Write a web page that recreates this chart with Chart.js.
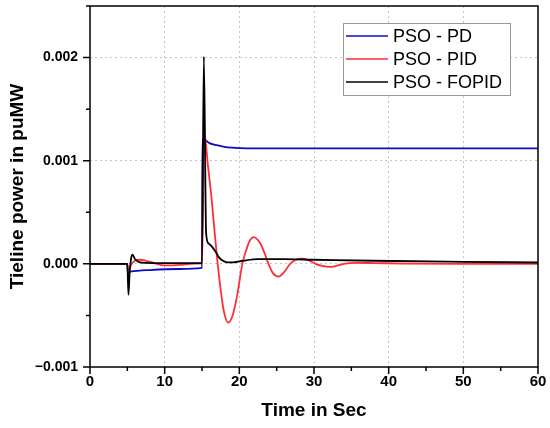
<!DOCTYPE html>
<html>
<head>
<meta charset="utf-8">
<script src="https://cdn.jsdelivr.net/npm/chart.js@4.4.0/dist/chart.umd.min.js"></script>
<style>
  html, body { margin: 0; padding: 0; background: #fff; }
  #wrap { width: 550px; height: 428px; }
</style>
</head>
<body>
<div id="wrap"><canvas id="chart" width="550" height="428"></canvas></div>
<script>
// Series (time in s, power in puMW)
const pdTime  = [0, 5.0, 5.05, 5.4, 8, 12, 15.0, 15.05, 15.4, 16, 17, 18, 19, 20, 22, 25, 30, 40, 60];
const pdValue = [0, 0, -0.00008, -0.000075, -0.00006, -0.00005, -0.00004, 0.00121, 0.0012, 0.00117,
                 0.00115, 0.001135, 0.001127, 0.001123, 0.00112, 0.00112, 0.00112, 0.00112, 0.00112];

const pidTime  = [0, 5.0, 5.1, 5.5, 6.0, 6.7, 7.5, 8.5, 10, 12, 14, 15.0, 15.3, 15.8, 16.3, 16.7, 17.1,
                  17.5, 17.9, 18.5, 19.1, 19.7, 20.4, 21.0, 21.4, 21.9, 22.8, 23.4, 23.9, 24.5, 25.3,
                  26.0, 26.8, 27.6, 28.5, 29.4, 30.2, 31.1, 32.1, 33.0, 34.0, 35.5, 38, 42, 50, 60];
const pidValue = [0, 0, -0.00007, -0.00001, 0.00003, 0.00004, 0.00003, 0.00001, -0.000015, -0.00001,
                  0.000003, 0.000005, 0.00126, 0.00095, 0.00062, 0.0003, 0, -0.00025, -0.00045,
                  -0.00057, -0.0005, -0.00031, 0, 0.00015, 0.000225, 0.00026, 0.0002, 0.0001, 0,
                  -0.00009, -0.000123, -0.00008, 0, 0.00004, 0.00005, 0.00003, 0, -0.00002, -0.00003,
                  -0.00002, 0, 0.00001, 0.000008, 0.000003, 0, 0];

const fopidTime  = [0, 5.0, 5.15, 5.3, 5.5, 5.7, 6.0, 6.5, 7.5, 10, 15.0, 15.25, 15.55, 15.85, 16.3,
                    16.8, 17.3, 17.8, 18.4, 19.2, 20.5, 22.5, 26, 30, 38, 50, 60];
const fopidValue = [0, 0, -0.0003, -0.0001, 0.00005, 0.00009, 0.00005, 0.00002, 0.00001, 0.000008,
                    0.000008, 0.00201, 0.0003, 0.0002, 0.00017, 0.00012, 0.00006, 0.00003, 0.000015,
                    0.000015, 0.00003, 0.000045, 0.000045, 0.00004, 0.00003, 0.00002, 0.000013];

const seriesLabels = ['PSO - PD', 'PSO - PID', 'PSO - FOPID'];
const seriesColors = ['#0c0cc8', '#ff2d3c', '#000000'];

const xTitle = 'Time in Sec';
const yTitle = 'Tieline power in puMW';

const FONT = '"Liberation Sans", Arial, sans-serif';

function toPoints(ts, vs) {
    return ts.map((t, i) => ({ x: t, y: vs[i] }));
}

function isMajorY(v) {
    const k = v / 0.001;
    return Math.abs(k - Math.round(k)) < 1e-6;
}

// Frame, outward ticks (major + minor) and the boxed legend
const decorPlugin = {
    id: 'decor',
    afterDraw(chart) {
        const ctx = chart.ctx;
        const a = chart.chartArea;
        const xs = chart.scales.x;
        const ys = chart.scales.y;
        ctx.save();
        ctx.strokeStyle = '#000';
        ctx.lineWidth = 1.5;

        // ticks
        ctx.beginPath();
        xs.ticks.forEach(t => {
            const px = xs.getPixelForValue(t.value);
            const len = (Math.round(t.value) % 10 === 0) ? 7 : 4;
            ctx.moveTo(px, a.bottom);
            ctx.lineTo(px, a.bottom + len);
        });
        ys.ticks.forEach(t => {
            const py = ys.getPixelForValue(t.value);
            const len = isMajorY(t.value) ? 7 : 4;
            ctx.moveTo(a.left, py);
            ctx.lineTo(a.left - len, py);
        });
        ctx.stroke();

        // frame
        ctx.strokeRect(a.left, a.top, a.right - a.left, a.bottom - a.top);

        // legend
        const bx = 343, by = 23, bw = 167, bh = 72;
        ctx.fillStyle = '#fff';
        ctx.fillRect(bx, by, bw, bh);
        ctx.lineWidth = 1;
        ctx.strokeStyle = '#999';
        ctx.strokeRect(bx + 0.5, by + 0.5, bw, bh);
        ctx.font = '18px ' + FONT;
        ctx.textBaseline = 'middle';
        ctx.textAlign = 'left';
        seriesLabels.forEach((lab, i) => {
            const y = 36 + i * 23;
            ctx.strokeStyle = seriesColors[i];
            ctx.lineWidth = 1.5;
            ctx.beginPath();
            ctx.moveTo(346, y);
            ctx.lineTo(388, y);
            ctx.stroke();
            ctx.fillStyle = '#000';
            ctx.fillText(lab, 393, y + 1);
        });
        ctx.restore();
    }
};

const datasets = [
    { label: seriesLabels[0], data: toPoints(pdTime, pdValue), order: 3 },
    { label: seriesLabels[1], data: toPoints(pidTime, pidValue), order: 2 },
    { label: seriesLabels[2], data: toPoints(fopidTime, fopidValue), order: 1 }
].map((d, i) => Object.assign(d, {
    borderColor: seriesColors[i],
    borderWidth: 1.8,
    pointRadius: 0,
    fill: false,
    cubicInterpolationMode: 'monotone'
}));

new Chart(document.getElementById('chart'), {
    type: 'line',
    data: { datasets: datasets },
    plugins: [decorPlugin],
    options: {
        responsive: false,
        animation: false,
        layout: { padding: { top: 6, right: 12, left: 0, bottom: 0 } },
        plugins: {
            legend: { display: false },
            tooltip: { enabled: false }
        },
        scales: {
            x: {
                type: 'linear',
                min: 0,
                max: 60,
                afterFit(scale) {
                    scale.height = 61;
                    scale.paddingLeft = 0;
                    scale.paddingRight = 0;
                },
                ticks: {
                    stepSize: 5,
                    padding: 6,
                    maxRotation: 0,
                    autoSkip: false,
                    color: '#000',
                    font: { family: FONT, size: 15, weight: 'bold' },
                    callback: v => (Math.round(v) % 10 === 0 ? String(v) : '')
                },
                grid: {
                    drawTicks: false,
                    lineWidth: 1,
                    color: c => {
                        const v = c.tick ? Math.round(c.tick.value) : 0;
                        return (v % 10 === 0 && v > 0 && v < 60) ? '#c4c4c4' : 'rgba(0,0,0,0)';
                    }
                },
                border: { display: false, dash: [2, 3] },
                title: {
                    display: true,
                    text: xTitle,
                    color: '#000',
                    font: { family: FONT, size: 19, weight: 'bold' },
                    padding: { top: 0, bottom: 6 }
                }
            },
            y: {
                min: -0.001,
                max: 0.0025,
                afterFit(scale) {
                    scale.width = 90;
                    scale.paddingTop = 0;
                    scale.paddingBottom = 0;
                },
                ticks: {
                    stepSize: 0.0005,
                    padding: 12,
                    autoSkip: false,
                    color: '#000',
                    font: { family: FONT, size: 14, weight: 'bold' },
                    callback: v => isMajorY(v) ? v.toFixed(3).replace('-', '\u2212') : ''
                },
                grid: {
                    drawTicks: false,
                    lineWidth: 1,
                    color: c => {
                        if (!c.tick) return 'rgba(0,0,0,0)';
                        const v = c.tick.value;
                        return (isMajorY(v) && v > -0.0009) ? '#c4c4c4' : 'rgba(0,0,0,0)';
                    }
                },
                border: { display: false, dash: [2, 3] },
                title: {
                    display: true,
                    text: yTitle,
                    color: '#000',
                    font: { family: FONT, size: 19, weight: 'bold' },
                    padding: { top: 6, bottom: 0 }
                }
            }
        }
    }
});
</script>
</body>
</html>
